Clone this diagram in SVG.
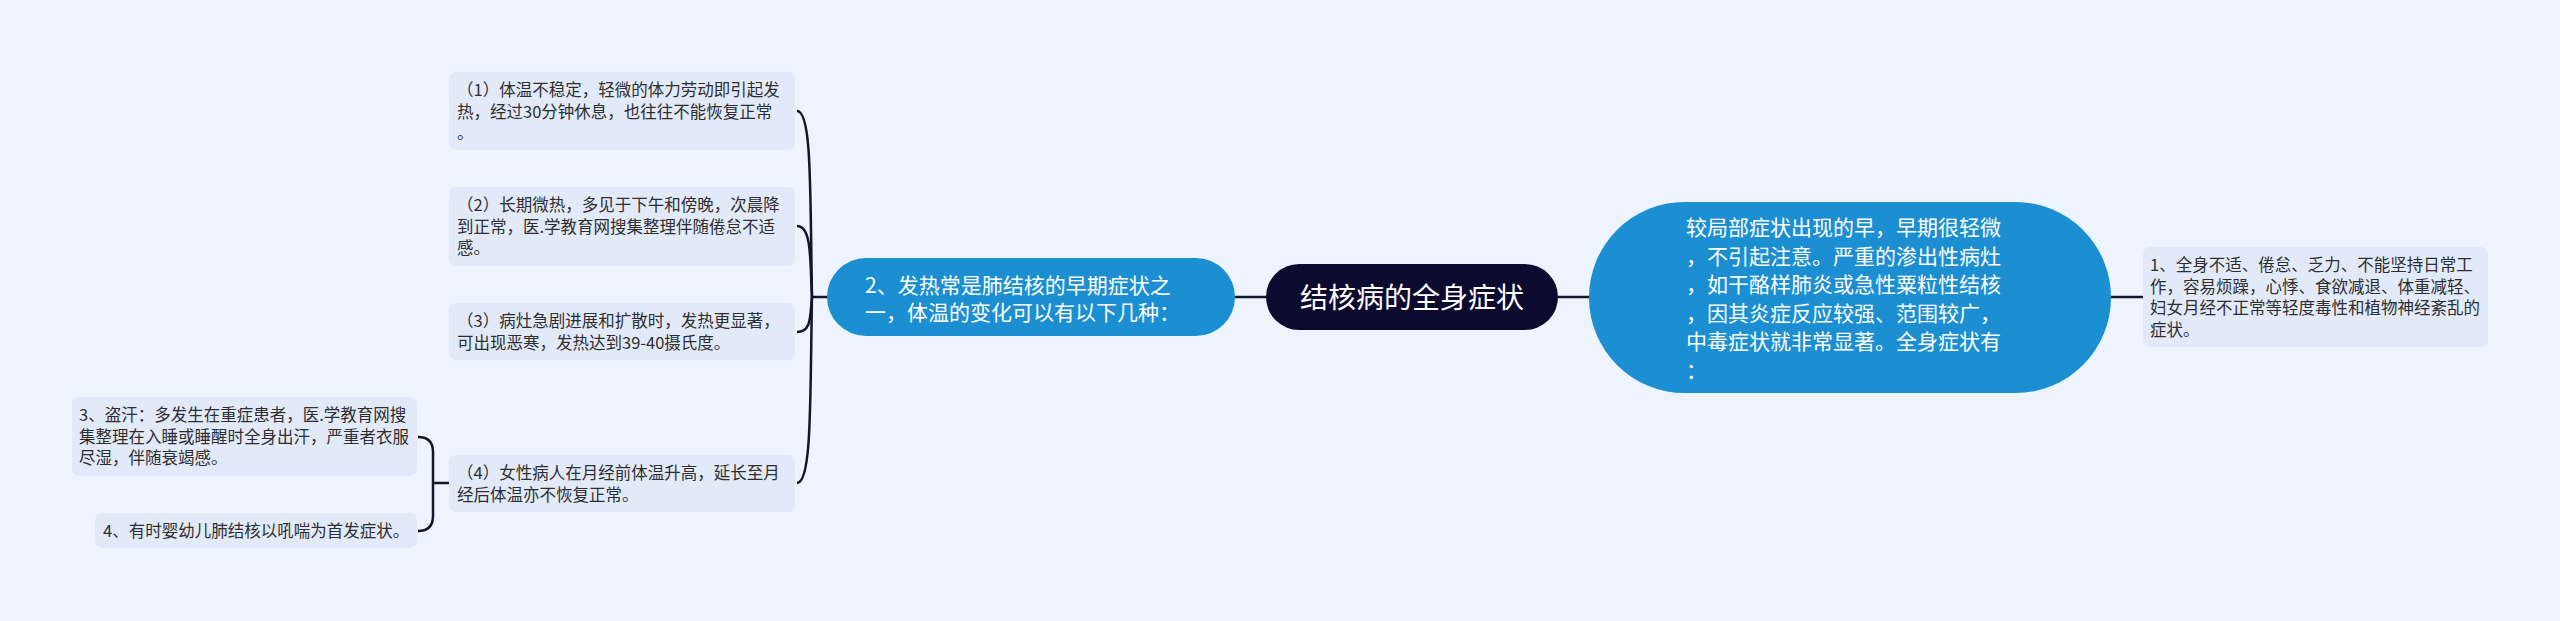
<svg xmlns="http://www.w3.org/2000/svg" width="2560" height="621" viewBox="0 0 2560 621">
<style>
.bg{fill:#eef4fd}
.box{fill:#e2eafa}
.t{font-family:"Noto Sans CJK SC","Noto Sans",sans-serif;font-size:16.5px;fill:#2e2e2e}
.tw{font-family:"Noto Sans CJK SC","Noto Sans",sans-serif;font-size:21px;fill:#ffffff}
.tc{font-family:"Noto Sans CJK SC","Noto Sans",sans-serif;font-size:28px;fill:#ffffff}
.blue{fill:#1b8fd1}
.navy{fill:#0c0a2f}
.ln{fill:none;stroke:#14142a;stroke-width:2.5}
</style>
<rect class="bg" x="0" y="0" width="2560" height="621"/>
<g id="connectors">
<line class="ln" x1="1234" y1="297" x2="1267" y2="297"/>
<line class="ln" x1="1558" y1="297" x2="1590" y2="297"/>
<line class="ln" x1="2110" y1="297" x2="2143" y2="297"/>
<line class="ln" x1="828" y1="297" x2="811" y2="297"/>
<path class="ln" d="M812 297 C810 190,812 111,797 111"/>
<path class="ln" d="M812 297 C810 260,812 226,797 226"/>
<path class="ln" d="M812 297 C810 315,812 332,797 332"/>
<path class="ln" d="M812 297 C810 400,812 483,797 483"/>
<line class="ln" x1="450" y1="483" x2="432" y2="483"/>
<path class="ln" d="M433 483 L433 452 Q433 437 418 437"/>
<path class="ln" d="M433 483 L433 516 Q433 531 418 531"/>
</g>
<g id="center">
<rect class="navy" x="1266" y="264" width="292" height="66" rx="33"/>
<text class="tc" x="1412" y="308" text-anchor="middle">结核病的全身症状</text>
</g>
<g id="left-node">
<rect class="blue" x="827" y="258" width="408" height="78" rx="39"/>
<text class="tw" x="865" y="293">2、发热常是肺结核的早期症状之</text>
<text class="tw" x="865" y="320">一，体温的变化可以有以下几种：</text>
</g>
<g id="child1">
<rect class="box" x="449" y="72" width="346" height="78" rx="7"/>
<text class="t" x="457" y="96">（1）体温不稳定，轻微的体力劳动即引起发</text>
<text class="t" x="457" y="117.5">热，经过30分钟休息，也往往不能恢复正常</text>
<text class="t" x="457" y="139">。</text>
</g>
<g id="child2">
<rect class="box" x="449" y="187" width="346" height="79" rx="7"/>
<text class="t" x="457" y="211">（2）长期微热，多见于下午和傍晚，次晨降</text>
<text class="t" x="457" y="232.5">到正常，医.学教育网搜集整理伴随倦怠不适</text>
<text class="t" x="457" y="254">感。</text>
</g>
<g id="child3">
<rect class="box" x="449" y="303" width="346" height="57" rx="7"/>
<text class="t" x="457" y="327">（3）病灶急剧进展和扩散时，发热更显著，</text>
<text class="t" x="457" y="348.5">可出现恶寒，发热达到39-40摄氏度。</text>
</g>
<g id="child4">
<rect class="box" x="449" y="455" width="346" height="57" rx="7"/>
<text class="t" x="457" y="479">（4）女性病人在月经前体温升高，延长至月</text>
<text class="t" x="457" y="500.5">经后体温亦不恢复正常。</text>
</g>
<g id="item3">
<rect class="box" x="72" y="397" width="345" height="79" rx="7"/>
<text class="t" x="79" y="421">3、盗汗：多发生在重症患者，医.学教育网搜</text>
<text class="t" x="79" y="442.5">集整理在入睡或睡醒时全身出汗，严重者衣服</text>
<text class="t" x="79" y="464">尽湿，伴随衰竭感。</text>
</g>
<g id="item4">
<rect class="box" x="95" y="513" width="322" height="35" rx="7"/>
<text class="t" x="103" y="537">4、有时婴幼儿肺结核以吼喘为首发症状。</text>
</g>
<g id="right-node">
<rect class="blue" x="1589" y="202" width="522" height="191" rx="95.5"/>
<text class="tw" x="1686" y="235">较局部症状出现的早，早期很轻微</text>
<text class="tw" x="1686" y="263.5">，不引起注意。严重的渗出性病灶</text>
<text class="tw" x="1686" y="292">，如干酪样肺炎或急性粟粒性结核</text>
<text class="tw" x="1686" y="320.5">，因其炎症反应较强、范围较广，</text>
<text class="tw" x="1686" y="349">中毒症状就非常显著。全身症状有</text>
<text class="tw" x="1686" y="377.5">：</text>
</g>
<g id="right-child">
<rect class="box" x="2143" y="247" width="345" height="100" rx="7"/>
<text class="t" x="2150" y="271">1、全身不适、倦怠、乏力、不能坚持日常工</text>
<text class="t" x="2150" y="292.5">作，容易烦躁，心悸、食欲减退、体重减轻、</text>
<text class="t" x="2150" y="314">妇女月经不正常等轻度毒性和植物神经紊乱的</text>
<text class="t" x="2150" y="335.5">症状。</text>
</g>
</svg>
